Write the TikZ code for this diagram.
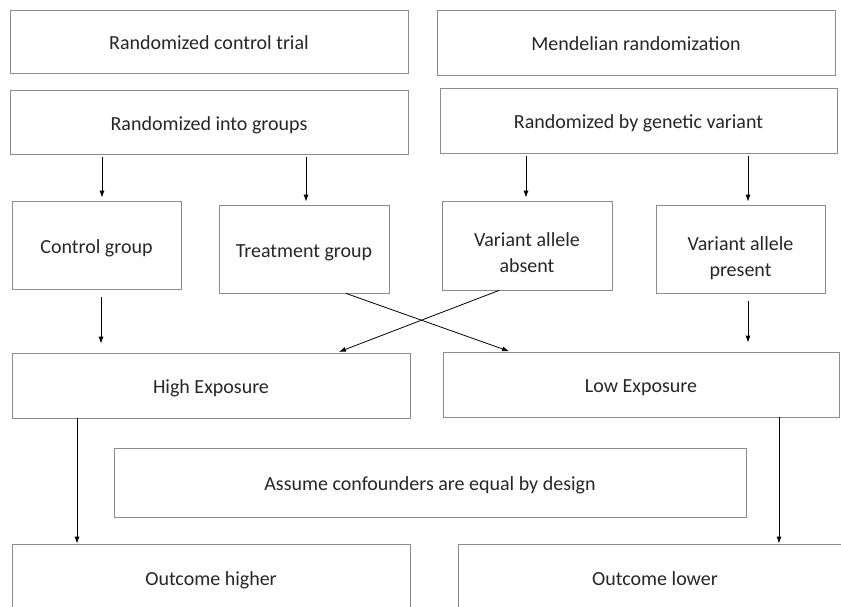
\documentclass[tikz,border=0pt]{standalone}
\usepackage{fontspec}
\setmainfont{Carlito}
\usetikzlibrary{arrows.meta}
\newcommand{\lift}{\rule{0pt}{36pt}}
\begin{document}
\begin{tikzpicture}[x=1pt, y=-1pt,
  box/.style={draw=black!45, line width=0.8pt, inner sep=0pt, align=center,
    text=black!85, font=\fontsize{20}{26}\selectfont,
    execute at begin node=\rule{0pt}{24pt}, execute at end node=\strut},
  arr/.style={-{Latex[length=7pt,width=5pt]}, line width=0.8pt},
  gap/.style={shorten <=3pt, shorten >=3pt}]
  \path[use as bounding box, clip] (0,0) rectangle (841,606);

  \node[box, minimum width=398pt, minimum height=63pt] (rct) at (209,41.5) {Randomized control trial};
  \node[box, minimum width=398pt, minimum height=65pt] (mr) at (636,42.5) {Mendelian randomization};
  \node[box, minimum width=398pt, minimum height=64pt] (rig) at (209,122) {Randomized into groups};
  \node[box, minimum width=397pt, minimum height=65pt] (rgv) at (638.5,120.5) {Randomized by genetic variant};

  \node[box, minimum width=169pt, minimum height=88pt] (cg) at (96.5,245) {Control group};
  \node[box, minimum width=170pt, minimum height=88pt] (tg) at (304,249) {Treatment group};
  \node[box, minimum width=170pt, minimum height=89pt] (vaa) at (527,245.5) {\lift Variant allele\\absent};
  \node[box, minimum width=169pt, minimum height=88pt] (vap) at (740.5,249) {\lift Variant allele\\present};

  \node[box, minimum width=398pt, minimum height=65pt] (he) at (211,385.5) {High Exposure};
  \node[box, minimum width=396pt, minimum height=65pt] (le) at (641,384.5) {Low Exposure};
  \node[box, minimum width=632pt, minimum height=69pt] (acf) at (430,482.5) {Assume confounders are equal by design};
  \node[box, minimum width=398pt, minimum height=66pt] (oh) at (211,577) {Outcome higher};
  \node[box, minimum width=394pt, minimum height=66pt] (ol) at (655,577) {Outcome lower};

  \draw[arr, gap] (rig.south -| 102,0) -- (cg.north -| 102,0);
  \draw[arr, gap] (rig.south -| 306,0) -- (tg.north -| 306,0);
  \draw[arr, gap] (rgv.south -| 526,0) -- (vaa.north -| 526,0);
  \draw[arr, gap] (rgv.south -| 748,0) -- (vap.north -| 748,0);
  \draw[arr, shorten <=8pt, shorten >=9pt] (cg.south -| 101,0) -- (he.north -| 101,0);
  \draw[arr, shorten <=8pt, shorten >=9pt] (vap.south -| 748,0) -- (le.north -| 748,0);
  \draw[arr, shorten >=1pt] (tg.south -| 346,0) -- (le.north -| 510,0);
  \draw[arr, shorten >=2pt] (vaa.south -| 499,0) -- (he.north -| 337,0);
  \draw[arr] (he.south -| 77,0) -- (oh.north -| 77,0);
  \draw[arr] (le.south -| 779,0) -- (ol.north -| 779,0);
\end{tikzpicture}
\end{document}
